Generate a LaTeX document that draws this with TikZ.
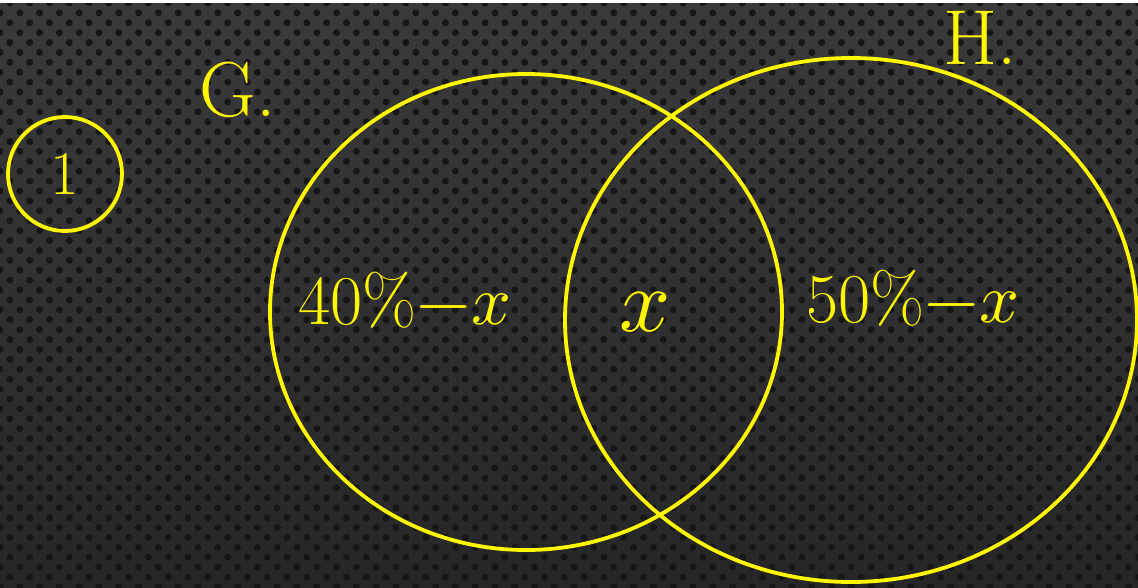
\documentclass[tikz,border=0pt]{standalone}
\usepackage{unicode-math}
\usetikzlibrary{shapes.geometric,patterns.meta}
\definecolor{vdink}{HTML}{FFF700}
\definecolor{vdtop}{HTML}{3A3A3A}
\definecolor{vdbottom}{HTML}{262626}
\definecolor{vddot}{HTML}{161616}
\tikzset{
  vd set/.style={ellipse, draw=vdink, line width=3.8pt, inner sep=0pt},
  vd label/.style={text=vdink, inner sep=0pt, font=\fontsize{70}{72}\selectfont},
  vd tag/.style={vd label, font=\fontsize{78}{80}\selectfont}
}
\begin{document}
\begin{tikzpicture}[x=1pt, y=-1pt]
  % board
  \shade[top color=vdtop, bottom color=vdbottom] (0,0) rectangle (1138,587);
  \fill[pattern={Dots[distance=14pt, angle=45, radius=3.5pt]}, pattern color=vddot]
    (0,3) rectangle (1138,587);
  \fill[white] (0,0) rectangle (1138,3);
  \useasboundingbox (0,0) rectangle (1138,587);
  % the two sets
  \node[vd set, minimum width=512pt, minimum height=476pt] (G) at (526,312) {};
  \node[vd set, minimum width=572pt, minimum height=524pt] (H) at (851,320) {};
  \node[vd tag] (Glabel) at (238,90) {G.};
  \node[vd tag] (Hlabel) at (980,38) {H.};
  % question number
  \node[vd set, circle, minimum size=114pt, vd label, font=\fontsize{62}{62}\selectfont] (qnum) at (65,174) {1};
  % regions
  \node[vd label] (Gonly) at (405,300) {40\%$-x$};
  \node[vd label, font=\fontsize{90}{90}\selectfont] (both) at (645,312) {$x$};
  \node[vd label] (Honly) at (913,298) {50\%$-x$};
\end{tikzpicture}
\end{document}
